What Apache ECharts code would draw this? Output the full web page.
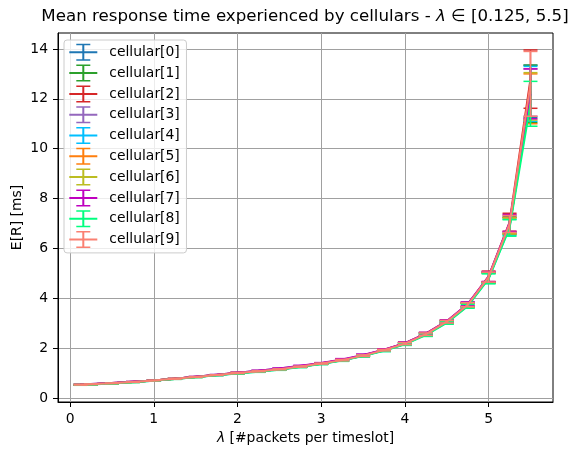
<!DOCTYPE html>
<html>
<head>
<meta charset="utf-8">
<script src="https://cdn.jsdelivr.net/npm/echarts@6/dist/echarts.min.js"></script>
<style>
  html, body { margin: 0; padding: 0; background: #fff; }
  #main { width: 577px; height: 459px; }
</style>
</head>
<body>
<div id="main"></div>
<script>
// arrival rates (x)
const lambdas = [0.125, 0.25, 0.5, 0.75, 1.0, 1.25, 1.5, 1.75, 2.0, 2.25, 2.5, 2.75,
  3.0, 3.25, 3.5, 3.75, 4.0, 4.25, 4.5, 4.75, 5.0, 5.25, 5.5];

const names = ['cellular[0]', 'cellular[1]', 'cellular[2]', 'cellular[3]', 'cellular[4]',
  'cellular[5]', 'cellular[6]', 'cellular[7]', 'cellular[8]', 'cellular[9]'];
const colors = ['#1f77b4', '#2ca02c', '#d62728', '#9467bd', '#00bfff',
  '#ff7f0e', '#bcbd22', '#bf00bf', '#00ff7f', '#fa8072'];

// mean response time E[R] per cellular
const resp0 = [0.53, 0.55, 0.59, 0.64, 0.70, 0.77, 0.84, 0.92, 1.00, 1.07, 1.15, 1.26, 1.38, 1.52, 1.70, 1.92, 2.18, 2.56, 3.05, 3.74, 4.84, 6.95, 12.30];
const resp1 = [0.53, 0.55, 0.59, 0.64, 0.70, 0.77, 0.84, 0.92, 0.99, 1.07, 1.15, 1.25, 1.37, 1.51, 1.69, 1.91, 2.17, 2.55, 3.04, 3.72, 4.82, 6.90, 12.20];
const resp2 = [0.53, 0.55, 0.60, 0.65, 0.70, 0.77, 0.85, 0.92, 1.00, 1.08, 1.16, 1.27, 1.39, 1.53, 1.71, 1.94, 2.20, 2.58, 3.08, 3.76, 4.88, 7.05, 12.79];
const resp3 = [0.53, 0.56, 0.60, 0.65, 0.70, 0.77, 0.85, 0.93, 1.01, 1.09, 1.18, 1.28, 1.39, 1.53, 1.72, 1.93, 2.19, 2.57, 3.07, 3.76, 4.86, 7.00, 12.25];
const resp4 = [0.53, 0.55, 0.59, 0.64, 0.69, 0.76, 0.84, 0.91, 0.99, 1.06, 1.14, 1.25, 1.37, 1.51, 1.69, 1.90, 2.16, 2.54, 3.03, 3.70, 4.80, 6.85, 12.20];
const resp5 = [0.53, 0.55, 0.59, 0.64, 0.70, 0.77, 0.84, 0.92, 1.00, 1.07, 1.15, 1.26, 1.38, 1.52, 1.70, 1.92, 2.18, 2.55, 3.05, 3.73, 4.83, 6.92, 12.00];
const resp6 = [0.53, 0.55, 0.59, 0.64, 0.70, 0.76, 0.84, 0.92, 1.00, 1.07, 1.15, 1.26, 1.38, 1.52, 1.70, 1.91, 2.17, 2.55, 3.04, 3.72, 4.82, 6.90, 12.10];
const resp7 = [0.53, 0.56, 0.60, 0.65, 0.70, 0.77, 0.85, 0.93, 1.01, 1.09, 1.18, 1.29, 1.40, 1.55, 1.73, 1.94, 2.20, 2.58, 3.08, 3.77, 4.87, 7.02, 12.20];
const resp8 = [0.52, 0.54, 0.58, 0.63, 0.69, 0.76, 0.83, 0.91, 0.98, 1.05, 1.13, 1.24, 1.36, 1.50, 1.68, 1.89, 2.15, 2.52, 3.01, 3.68, 4.78, 6.82, 11.80];
const resp9 = [0.53, 0.55, 0.59, 0.64, 0.70, 0.77, 0.84, 0.92, 1.00, 1.07, 1.15, 1.26, 1.38, 1.52, 1.70, 1.92, 2.18, 2.56, 3.06, 3.74, 4.85, 6.98, 12.60];

// half width of the confidence interval per cellular
const err0 = [0.01, 0.01, 0.01, 0.01, 0.01, 0.01, 0.01, 0.01, 0.02, 0.02, 0.02, 0.02, 0.02, 0.03, 0.03, 0.03, 0.04, 0.05, 0.05, 0.08, 0.20, 0.32, 1.05];
const err1 = [0.01, 0.01, 0.01, 0.01, 0.01, 0.01, 0.01, 0.01, 0.02, 0.02, 0.02, 0.02, 0.02, 0.03, 0.03, 0.03, 0.04, 0.05, 0.05, 0.08, 0.20, 0.33, 1.15];
const err2 = [0.01, 0.01, 0.01, 0.01, 0.01, 0.01, 0.01, 0.01, 0.02, 0.02, 0.02, 0.02, 0.02, 0.03, 0.03, 0.03, 0.04, 0.05, 0.05, 0.08, 0.21, 0.36, 1.17];
const err3 = [0.01, 0.01, 0.01, 0.01, 0.01, 0.01, 0.01, 0.01, 0.02, 0.02, 0.02, 0.02, 0.02, 0.03, 0.03, 0.03, 0.04, 0.05, 0.05, 0.08, 0.20, 0.33, 0.95];
const err4 = [0.01, 0.01, 0.01, 0.01, 0.01, 0.01, 0.01, 0.01, 0.02, 0.02, 0.02, 0.02, 0.02, 0.03, 0.03, 0.03, 0.04, 0.05, 0.05, 0.08, 0.20, 0.32, 1.10];
const err5 = [0.01, 0.01, 0.01, 0.01, 0.01, 0.01, 0.01, 0.01, 0.02, 0.02, 0.02, 0.02, 0.02, 0.03, 0.03, 0.03, 0.04, 0.05, 0.05, 0.08, 0.20, 0.33, 1.00];
const err6 = [0.01, 0.01, 0.01, 0.01, 0.01, 0.01, 0.01, 0.01, 0.02, 0.02, 0.02, 0.02, 0.02, 0.03, 0.03, 0.03, 0.04, 0.05, 0.05, 0.08, 0.20, 0.32, 0.95];
const err7 = [0.01, 0.01, 0.01, 0.01, 0.01, 0.01, 0.01, 0.01, 0.02, 0.02, 0.02, 0.02, 0.02, 0.03, 0.03, 0.03, 0.04, 0.05, 0.05, 0.08, 0.20, 0.34, 1.00];
const err8 = [0.01, 0.01, 0.01, 0.01, 0.01, 0.01, 0.01, 0.01, 0.02, 0.02, 0.02, 0.02, 0.02, 0.03, 0.03, 0.03, 0.04, 0.05, 0.05, 0.08, 0.20, 0.33, 0.90];
const err9 = [0.01, 0.01, 0.01, 0.01, 0.01, 0.01, 0.01, 0.01, 0.02, 0.02, 0.02, 0.02, 0.02, 0.03, 0.03, 0.03, 0.04, 0.05, 0.05, 0.08, 0.20, 0.34, 1.30];

const xTicks = [0, 1, 2, 3, 4, 5];
const yTicks = [0, 2, 4, 6, 8, 10, 12, 14];

const resp = [resp0, resp1, resp2, resp3, resp4, resp5, resp6, resp7, resp8, resp9];
const errs = [err0, err1, err2, err3, err4, err5, err6, err7, err8, err9];

const FONT = 'DejaVu Sans';
// errorbar glyph for the legend (28 x 17)
const errIcon = 'path://M0,7.5H28V9.5H0Z M13,0H15V17H13Z M7,0H21V1.5H7Z M7,15.5H21V17H7Z';

function renderErrorBar(params, api) {
  var x = api.value(0), y = api.value(1), e = api.value(2);
  var top = api.coord([x, y + e]);
  var bot = api.coord([x, y - e]);
  var c = api.visual('color');
  var w = 7;
  var st = { stroke: c, lineWidth: 1.5 };
  return {
    type: 'group',
    children: [
      { type: 'line', shape: { x1: top[0], y1: top[1], x2: bot[0], y2: bot[1] }, style: st },
      { type: 'line', shape: { x1: top[0] - w, y1: top[1], x2: top[0] + w, y2: top[1] }, style: st },
      { type: 'line', shape: { x1: bot[0] - w, y1: bot[1], x2: bot[0] + w, y2: bot[1] }, style: st }
    ]
  };
}

let series = [];
names.forEach(function (name, i) {
  let pts = lambdas.map(function (x, k) { return [x, resp[i][k], errs[i][k]]; });
  series.push({
    name: name,
    type: 'line',
    data: pts.map(function (p) { return [p[0], p[1]]; }),
    symbol: 'none',
    showSymbol: false,
    lineStyle: { width: 2, color: colors[i] },
    itemStyle: { color: colors[i] },
    z: 2 + i
  });
  series.push({
    name: name,
    type: 'custom',
    data: pts,
    encode: { x: 0, y: 1 },
    renderItem: renderErrorBar,
    itemStyle: { color: colors[i] },
    z: 2 + i
  });
});

let option = {
  animation: false,
  backgroundColor: '#fff',
  title: {
    text: '{n|Mean response time experienced by cellulars - }{i|λ}{n| ∈ [0.125, 5.5]}',
    left: 305,
    top: 8,
    padding: 0,
    textAlign: 'center',
    textStyle: {
      fontWeight: 'normal',
      rich: {
        n: { fontFamily: FONT, fontSize: 16.67, color: '#000', fontWeight: 'normal' },
        i: { fontFamily: FONT, fontSize: 16.67, color: '#000', fontWeight: 'normal', fontStyle: 'italic' }
      }
    }
  },
  legend: {
    orient: 'vertical',
    left: 64,
    top: 40,
    itemWidth: 28,
    itemHeight: 17,
    itemGap: 3.8,
    padding: [3.8, 6.7, 4.9, 5.3],
    backgroundColor: 'rgba(255,255,255,0.8)',
    borderColor: '#cccccc',
    borderWidth: 1,
    borderRadius: 3,
    z: 30,
    textStyle: { fontFamily: FONT, fontSize: 13.9, color: '#000', padding: [0, 0, 0, 7] },
    data: names.map(function (n) { return { name: n, icon: errIcon }; })
  },
  grid: {
    left: 58, right: 24, top: 33, bottom: 57,
    show: true, borderColor: '#000', borderWidth: 1,
    containLabel: false, outerBoundsMode: 'none'
  },
  xAxis: {
    type: 'value',
    min: -0.144,
    max: 5.769,
    name: '{i|λ}{n| [#packets per timeslot]}',
    nameLocation: 'middle',
    nameGap: 29,
    nameMoveOverlap: false,
    nameTextStyle: {
      rich: {
        n: { fontFamily: FONT, fontSize: 13.9, color: '#000' },
        i: { fontFamily: FONT, fontSize: 13.9, color: '#000', fontStyle: 'italic' }
      }
    },
    axisLine: { show: true, onZero: false, lineStyle: { color: '#000', width: 1 } },
    axisTick: { show: true, length: 5, customValues: xTicks, lineStyle: { color: '#000' } },
    axisLabel: { customValues: xTicks, margin: 10, color: '#000', fontSize: 13.9, fontFamily: FONT },
    splitLine: { show: true, lineStyle: { color: '#a0a0a0', width: 1 } }
  },
  yAxis: {
    type: 'value',
    min: -0.16,
    max: 14.64,
    name: 'E[R] [ms]',
    nameLocation: 'middle',
    nameGap: 34,
    nameMoveOverlap: false,
    nameTextStyle: { fontFamily: FONT, fontSize: 13.9, color: '#000' },
    axisLine: { show: true, onZero: false, lineStyle: { color: '#000', width: 1 } },
    axisTick: { show: true, length: 5, customValues: yTicks, lineStyle: { color: '#000' } },
    axisLabel: { customValues: yTicks, margin: 10, color: '#000', fontSize: 13.9, fontFamily: FONT },
    splitLine: { show: true, lineStyle: { color: '#a0a0a0', width: 1 } }
  },
  series: series
};

let myChart = echarts.init(document.getElementById('main'));
myChart.setOption(option);
</script>
</body>
</html>
